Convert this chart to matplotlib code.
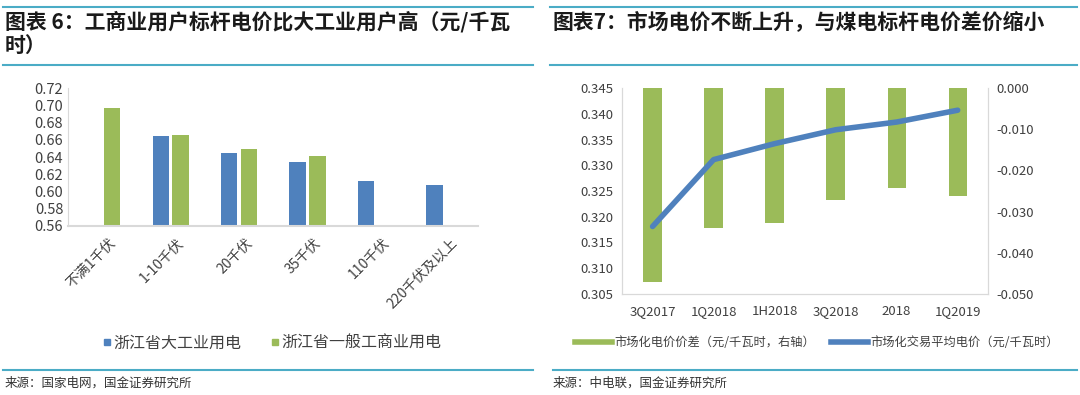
import numpy as np
import matplotlib.pyplot as plt
from matplotlib.lines import Line2D
import matplotlib.transforms as mtransforms

plt.rcParams['font.family'] = ['Noto Sans CJK SC', 'DejaVu Sans']

# left chart data
voltage_levels = ["不满1千伏", "1-10千伏", "20千伏", "35千伏", "110千伏", "220千伏及以上"]
large_industry = [np.nan, 0.664, 0.645, 0.634, 0.612, 0.608]
general_commercial = [0.697, 0.665, 0.649, 0.641, np.nan, np.nan]

# right chart data
periods = ["3Q2017", "1Q2018", "1H2018", "3Q2018", "2018", "1Q2019"]
market_price = [0.3181, 0.3311, 0.3342, 0.3369, 0.3384, 0.3407]
price_gap = [-0.0470, -0.0340, -0.0328, -0.0273, -0.0243, -0.0261]

BLUE = "#4F81BD"
GREEN = "#9BBB59"
TEAL = "#4BACC6"
TXT = "#404040"
AX = "#D9D9D9"

fig = plt.figure(figsize=(10.8, 3.95), dpi=100)


def hline(x0, x1, y):
    fig.add_artist(Line2D([x0 / 1080, x1 / 1080], [1 - y / 395, 1 - y / 395], color=TEAL, lw=1.5))


# frame lines and titles
hline(3, 533, 7)
hline(3, 533, 65)
hline(550, 1077, 7)
hline(550, 1077, 65)
hline(3, 533, 370)
hline(553, 1077, 370)

fig.text(5 / 1080, 1 - 22 / 395, "图表 6：工商业用户标杆电价比大工业用户高（元/千瓦",
         fontsize=15, fontweight="bold", color="#1a1a1a", va="center", ha="left")
fig.text(5 / 1080, 1 - 45 / 395, "时）", fontsize=15, fontweight="bold", color="#1a1a1a",
         va="center", ha="left")
fig.text(553 / 1080, 1 - 22 / 395, "图表7：市场电价不断上升，与煤电标杆电价差价缩小",
         fontsize=15, fontweight="bold", color="#1a1a1a", va="center", ha="left")
fig.text(5 / 1080, 1 - 383 / 395, "来源：国家电网，国金证券研究所", fontsize=9,
         color="#333333", va="center", ha="left")
fig.text(553 / 1080, 1 - 383 / 395, "来源：中电联，国金证券研究所", fontsize=9,
         color="#333333", va="center", ha="left")

# left chart
ax1 = fig.add_axes([0.063, 0.428, 0.38, 0.349])
x = np.arange(len(voltage_levels))
w = 0.24
ax1.bar(x - 0.145, large_industry, w, color=BLUE, label="浙江省大工业用电")
ax1.bar(x + 0.145, general_commercial, w, color=GREEN, label="浙江省一般工商业用电")
ax1.set_ylim(0.56, 0.72)
ax1.set_yticks(np.arange(0.56, 0.7201, 0.02))
ax1.set_yticklabels([f"{v:.2f}" for v in np.arange(0.56, 0.7201, 0.02)])
ax1.set_xlim(-0.5, len(voltage_levels) - 0.5)
ax1.set_xticks(x)
ax1.set_xticklabels(voltage_levels, rotation=45, ha="right", rotation_mode="anchor")
ax1.tick_params(axis="both", length=0, labelsize=10.5, colors=TXT)
ax1.tick_params(axis="x", pad=7, labelsize=10)
shift = mtransforms.ScaledTranslation(6 / 100, 0, fig.dpi_scale_trans)
for lbl in ax1.get_xticklabels():
    lbl.set_transform(lbl.get_transform() + shift)
for s in ["top", "right"]:
    ax1.spines[s].set_visible(False)
ax1.spines["left"].set_color(AX)
ax1.spines["bottom"].set_color(AX)
ax1.spines["bottom"].set_linewidth(1.5)

handles = [Line2D([], [], marker="s", color=BLUE, linestyle="none", markersize=5),
           Line2D([], [], marker="s", color=GREEN, linestyle="none", markersize=5)]
fig.legend(handles, ["浙江省大工业用电", "浙江省一般工商业用电"],
           loc="center", bbox_to_anchor=(272 / 1080, 1 - 343 / 395), ncol=2, frameon=False,
           fontsize=11.5, handlelength=0.6, handletextpad=0.1, columnspacing=1.8,
           labelcolor=TXT)

# right chart
ax2 = fig.add_axes([0.576, 0.256, 0.339, 0.521])
ax3 = ax2.twinx()
xp = np.arange(len(periods))
ax3.bar(xp, price_gap, 0.3, color=GREEN)
ax3.set_ylim(-0.05, 0.0)
ax3.set_yticks(np.arange(-0.05, 0.0001, 0.01))
ax3.set_yticklabels([f"{v:.3f}" if abs(v) > 1e-9 else "0.000" for v in np.arange(-0.05, 0.0001, 0.01)])
ax2.set_zorder(ax3.get_zorder() + 1)
ax2.patch.set_visible(False)
ax2.plot(xp, market_price, color=BLUE, lw=4, solid_capstyle="round")
ax2.set_ylim(0.305, 0.345)
ax2.set_yticks(np.arange(0.305, 0.3451, 0.005))
ax2.set_yticklabels([f"{v:.3f}" for v in np.arange(0.305, 0.3451, 0.005)])
ax2.set_xlim(-0.5, len(periods) - 0.5)
ax2.set_xticks(xp)
ax2.set_xticklabels(periods)
for a in (ax2, ax3):
    a.tick_params(axis="both", length=0, labelsize=9.5, colors=TXT)
    a.spines["top"].set_visible(False)
    for s in ["left", "right", "bottom"]:
        a.spines[s].set_color(AX)
ax2.tick_params(axis="x", pad=8)
ax2.tick_params(axis="y", pad=6)
ax3.tick_params(axis="y", pad=6)

h2 = [Line2D([], [], color=GREEN, lw=4), Line2D([], [], color=BLUE, lw=4)]
fig.legend(h2, ["市场化电价价差（元/千瓦时，右轴）", "市场化交易平均电价（元/千瓦时）"],
           loc="center", bbox_to_anchor=(817 / 1080, 1 - 343 / 395), ncol=2, frameon=False,
           fontsize=8.8, handlelength=3.0, handletextpad=0.2, columnspacing=1.3,
           labelcolor=TXT)

fig.savefig("out.png", dpi=100)
